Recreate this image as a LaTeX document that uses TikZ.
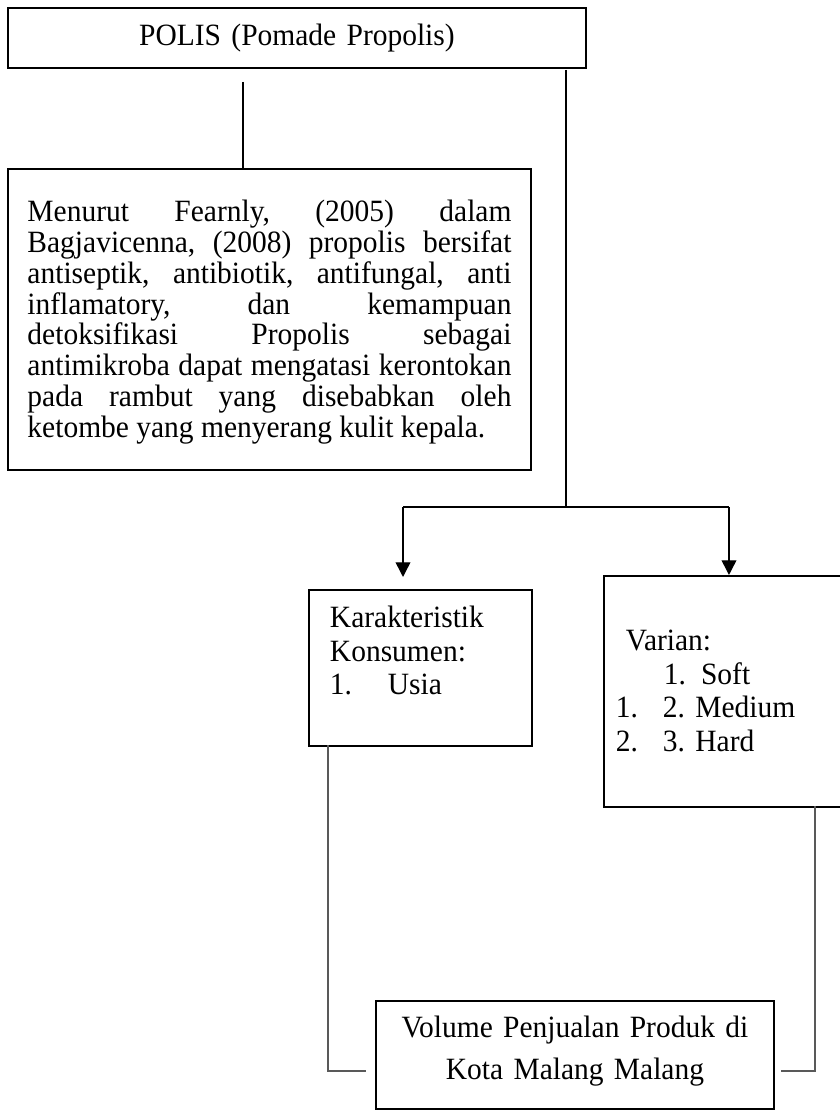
\documentclass[tikz,border=0pt]{standalone}
\usepackage{fontspec}
\setmainfont{Liberation Serif}[FakeStretch=0.952]
\usetikzlibrary{arrows.meta}
\frenchspacing
\newlength\pxu
\setlength\pxu{0.4068pt}
\tikzset{
  box/.style   = {draw, line width=0.8pt, inner sep=0pt, anchor=north west,
                  font={\fontsize{12.6pt}{13.6pt}\selectfont}},
  link/.style  = {line width=0.45pt},
  feed/.style  = {line width=0.55pt, draw=black!65},
  arrow/.style = {-{Triangle[length=6pt, width=6pt]}, line width=0.6pt}
}

\begin{document}
\begin{tikzpicture}[x=\pxu, y=-\pxu]
  \useasboundingbox (0,0) rectangle (840,1112);
  \clip (0,0) rectangle (840,1112);
  % boxes
  \node[box, minimum width=578\pxu, text width=540\pxu, align=center,
        text height=38\pxu, text depth=22\pxu] (polis) at (7,7)
    {POLIS (Pomade Propolis)};
  \node[box, minimum width=523\pxu, text width=484\pxu, align=justify,
        text height=53\pxu, text depth=248\pxu,
        font={\fontsize{12.6pt}{12.5pt}\selectfont\tolerance=10000\hyphenpenalty=10000}]
        (menurut) at (7,168)
    {Menurut Fearnly, (2005) dalam\linebreak
     Bagjavicenna, (2008) propolis bersifat\linebreak
     antiseptik, antibiotik, antifungal, anti\linebreak
     inflamatory, dan kemampuan\linebreak
     detoksifikasi Propolis sebagai\linebreak
     antimikroba dapat mengatasi kerontokan\linebreak
     pada rambut yang disebabkan oleh\linebreak
     ketombe yang menyerang kulit kepala.};
  \node[box, minimum width=223\pxu, text width=181\pxu, align=left,
        text height=38\pxu, text depth=118\pxu] (karak) at (308,589)
    {Karakteristik\\ Konsumen:\\ \makebox[58\pxu][l]{1.}Usia};
  \node[box, minimum width=250\pxu, text width=226\pxu, align=left,
        text height=75\pxu, text depth=156\pxu] (varian) at (603,575)
    {\hspace*{10\pxu}Varian:\\
     \hspace*{48\pxu}1.\hspace{15\pxu}Soft\\
     \makebox[47\pxu][l]{1.}2. Medium\\
     \makebox[47\pxu][l]{2.}3. Hard};
  \node[box, minimum width=398\pxu, text width=380\pxu, align=center,
        text height=37\pxu, text depth=71\pxu,
        font={\fontsize{12.6pt}{16.7pt}\selectfont}] (volume) at (375,1000)
    {Volume Penjualan Produk di\\ Kota Malang Malang};
  % connectors
  \coordinate (drop)   at (243,82);
  \coordinate (trunk)  at (566,70);
  \coordinate (split)  at (566,507);
  \coordinate (splitL) at (403,507);
  \draw[link] (drop) -- (drop |- menurut.north);
  \draw[link] (trunk) -- (split);
  \draw[link] (splitL) -- (split -| varian.north);
  \draw[arrow, shorten >=12\pxu] (splitL) -- (splitL |- karak.north);
  \draw[arrow] (split -| varian.north) -- (varian.north);
  \coordinate (kfoot) at (328,745);
  \coordinate (kend)  at (366,1071);
  \coordinate (vfoot) at (815,806);
  \coordinate (vend)  at (781,1071);
  \draw[feed] (kfoot) |- (kend);
  \draw[feed] (vfoot) |- (vend);
\end{tikzpicture}
\end{document}
